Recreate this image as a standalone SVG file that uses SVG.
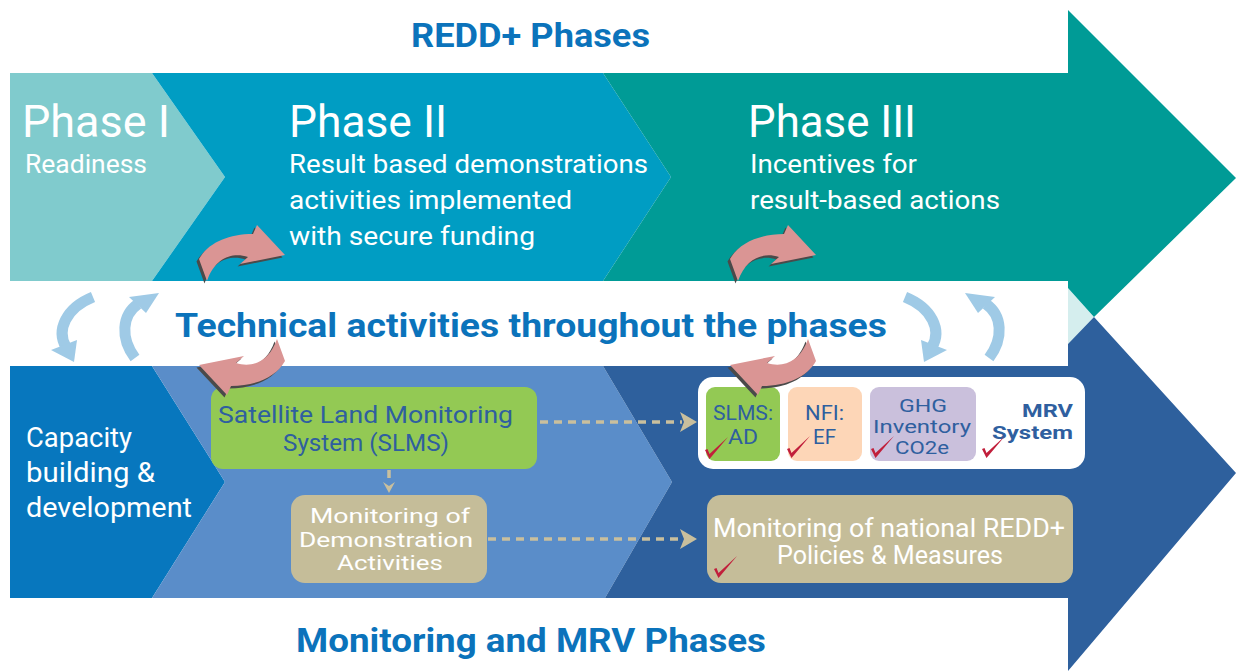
<svg xmlns="http://www.w3.org/2000/svg" xmlns:xlink="http://www.w3.org/1999/xlink" width="1236" height="671" viewBox="0 0 1236 671">
<style>
.t{font-family:Roboto,"Open Sans","Liberation Sans",sans-serif;}
.w{fill:#ffffff;}
.b{fill:#2f5f9f;}
.ttl{font-family:Roboto,"Open Sans","Liberation Sans",sans-serif;font-weight:bold;fill:#0b73bb;font-size:33px;}
.ph{font-size:45px;}
.sub{font-size:26px;}
.bx{font-size:24px;}
.dm{font-size:21px;}
.sm{font-size:21px;}
.gh{font-size:18px;}
.dash{stroke:#c9bf9d;stroke-width:3.5;stroke-dasharray:8 6;fill:none;}
.dh{fill:#c9bf9d;}
.pink{fill:#da9594;}
.shd{fill:#4a4a4a;}
.lb{fill:none;stroke:#9fcae6;stroke-width:11;}
.lbh{fill:#9fcae6;}
.chk{fill:#c11f3b;}
</style>
<defs>
<path id="pk" d="M199,259 C208,243 228,234 253,234 L257,225 L285,255 L240,264 L248,257 C232,252 215,258 207,281 Z"/>
<path id="ck" d="M-4,-8 L-1.5,-9 L0.5,-4 L19,-21 L0.5,1 Z"/>
<g id="ba1"><path class="lb" d="M93,297 C66,308 56,330 66,347"/><polygon class="lbh" points="51,350 77,340 74,362"/></g>
<g id="ba2"><path class="lb" d="M135,358 C120,338 122,315 138,304"/><polygon class="lbh" points="129,297 146,313 159,293"/></g>
</defs>
<rect width="1236" height="671" fill="#ffffff"/>

<g id="phase1">
<polygon points="10,73 152,73 225,177 152,281 10,281" fill="#80cbcd"/>
<text class="t w ph" x="22" y="137" textLength="148" lengthAdjust="spacingAndGlyphs">Phase I</text>
<text class="t w sub" x="25" y="173" textLength="122" lengthAdjust="spacingAndGlyphs">Readiness</text>
</g>
<g id="phase2">
<polygon points="152,73 603,73 671,177 603,281 152,281 225,177" fill="#009dc3"/>
<text class="t w ph" x="289" y="137" textLength="158" lengthAdjust="spacingAndGlyphs">Phase II</text>
<text class="t w sub" x="289" y="173" textLength="359" lengthAdjust="spacingAndGlyphs">Result based demonstrations</text>
<text class="t w sub" x="289" y="209" textLength="283" lengthAdjust="spacingAndGlyphs">activities implemented</text>
<text class="t w sub" x="289" y="245" textLength="246" lengthAdjust="spacingAndGlyphs">with secure funding</text>
</g>
<g id="phase3">
<polygon points="1068,288 1094,317 1068,344" fill="#d5eeee"/>
<polygon points="603,73 1068,73 1068,10 1236,178 1094,317 1068,288 1068,281 603,281 671,177" fill="#009b96"/>
<text class="t w ph" x="748" y="137" textLength="168" lengthAdjust="spacingAndGlyphs">Phase III</text>
<text class="t w sub" x="750" y="173" textLength="167" lengthAdjust="spacingAndGlyphs">Incentives for</text>
<text class="t w sub" x="750" y="209" textLength="250" lengthAdjust="spacingAndGlyphs">result-based actions</text>
</g>
<g id="title-redd">
<text class="ttl" x="411" y="47" textLength="239" lengthAdjust="spacingAndGlyphs">REDD+ Phases</text>
</g>
<g id="technical">
<text class="ttl" x="175" y="337" textLength="712" lengthAdjust="spacingAndGlyphs">Technical activities throughout the phases</text>
</g>

<g id="capacity">
<polygon points="10,366 152,366 225,482 152,598 10,598" fill="#0777be"/>
<text class="t w" font-size="27" x="26" y="447" textLength="106" lengthAdjust="spacingAndGlyphs">Capacity</text>
<text class="t w" font-size="27" x="26" y="482" textLength="129" lengthAdjust="spacingAndGlyphs">building &amp;</text>
<text class="t w" font-size="27" x="26" y="517" textLength="166" lengthAdjust="spacingAndGlyphs">development</text>
</g>
<g id="demo-phase">
<polygon points="152,366 603,366 672,482 605,598 152,598 225,482" fill="#5a8dc9"/>
</g>
<g id="mrv-phase">
<polygon points="603,366 1068,366 1068,344 1094,317 1236,473 1068,671 1068,598 605,598 672,482" fill="#2e609d"/>
</g>
<g id="title-mrv">
<text class="ttl" x="296" y="652" textLength="470" lengthAdjust="spacingAndGlyphs">Monitoring and MRV Phases</text>
</g>

<g id="slms">
<rect x="211" y="387" width="326" height="82" rx="12" fill="#93c954"/>
<text class="t b bx" x="218" y="423" textLength="295" lengthAdjust="spacingAndGlyphs">Satellite Land Monitoring</text>
<text class="t b bx" x="283" y="451" textLength="166" lengthAdjust="spacingAndGlyphs">System (SLMS)</text>
</g>
<g id="demo">
<rect x="291" y="495" width="196" height="88" rx="14" fill="#c5bd99"/>
<text class="t w dm" x="310" y="523" textLength="160" lengthAdjust="spacingAndGlyphs">Monitoring of</text>
<text class="t w dm" x="299" y="547" textLength="174" lengthAdjust="spacingAndGlyphs">Demonstration</text>
<text class="t w dm" x="337" y="570" textLength="106" lengthAdjust="spacingAndGlyphs">Activities</text>
</g>
<g id="mrv-system">
<rect x="698" y="377" width="387" height="92" rx="15" fill="#ffffff"/>
<rect x="706" y="387" width="74" height="74" rx="9" fill="#93c954"/>
<rect x="788" y="387" width="74" height="74" rx="9" fill="#fdd6b7"/>
<rect x="870" y="387" width="106" height="74" rx="9" fill="#cac0dc"/>
<text class="t b sm" x="713" y="420" textLength="60" lengthAdjust="spacingAndGlyphs">SLMS:</text>
<text class="t b sm" x="728" y="444" textLength="30" lengthAdjust="spacingAndGlyphs">AD</text>
<text class="t b sm" x="805" y="420" textLength="39" lengthAdjust="spacingAndGlyphs">NFI:</text>
<text class="t b sm" x="813" y="444" textLength="23" lengthAdjust="spacingAndGlyphs">EF</text>
<text class="t b gh" x="899" y="412" textLength="48" lengthAdjust="spacingAndGlyphs">GHG</text>
<text class="t b gh" x="873" y="433" textLength="98" lengthAdjust="spacingAndGlyphs">Inventory</text>
<text class="t b gh" x="895" y="454" textLength="54" lengthAdjust="spacingAndGlyphs">CO2e</text>
<text class="t b gh" font-weight="bold" x="1022" y="417" textLength="51" lengthAdjust="spacingAndGlyphs">MRV</text>
<text class="t b gh" font-weight="bold" x="992" y="439" textLength="81" lengthAdjust="spacingAndGlyphs">System</text>
<use xlink:href="#ck" class="chk" x="709" y="458"/>
<use xlink:href="#ck" class="chk" x="791" y="457"/>
<use xlink:href="#ck" class="chk" x="875" y="457"/>
<use xlink:href="#ck" class="chk" x="986" y="457"/>
</g>
<g id="policies">
<rect x="707" y="495" width="366" height="88" rx="14" fill="#c5bd99"/>
<text class="t w" font-size="25" x="713" y="537" textLength="352" lengthAdjust="spacingAndGlyphs">Monitoring of national REDD+</text>
<text class="t w" font-size="25" x="777" y="564" textLength="226" lengthAdjust="spacingAndGlyphs">Policies &amp; Measures</text>
<use xlink:href="#ck" class="chk" x="718" y="577"/>
</g>

<g id="connectors">
<line class="dash" x1="540" y1="422" x2="682" y2="422"/>
<path class="dh" d="M680,412 L697,422 L680,432 L684,422 Z"/>
<line class="dash" x1="488" y1="539" x2="682" y2="539"/>
<path class="dh" d="M680,529 L697,539 L680,549 L684,539 Z"/>
<line class="dash" x1="389" y1="470" x2="389" y2="484" stroke-dasharray="5 4"/>
<path class="dh" d="M383,482 L389,493 L395,482 L389,486 Z"/>

<use xlink:href="#ba1"/>
<use xlink:href="#ba2"/>
<use xlink:href="#ba1" transform="translate(998,0) scale(-1,1)"/>
<use xlink:href="#ba2" transform="translate(1124,0) scale(-1,1)"/>

<use xlink:href="#pk" class="shd" transform="translate(-2.5,2.5)"/>
<use xlink:href="#pk" class="pink"/>
<use xlink:href="#pk" class="shd" transform="translate(-2.5,2.5) rotate(180,242,310)"/>
<use xlink:href="#pk" class="pink" transform="rotate(180,242,310)"/>
<use xlink:href="#pk" class="shd" transform="translate(528.5,2.5)"/>
<use xlink:href="#pk" class="pink" transform="translate(531,0)"/>
<use xlink:href="#pk" class="shd" transform="translate(528.5,2.5) rotate(180,242,310)"/>
<use xlink:href="#pk" class="pink" transform="translate(531,0) rotate(180,242,310)"/>
</g>
</svg>
